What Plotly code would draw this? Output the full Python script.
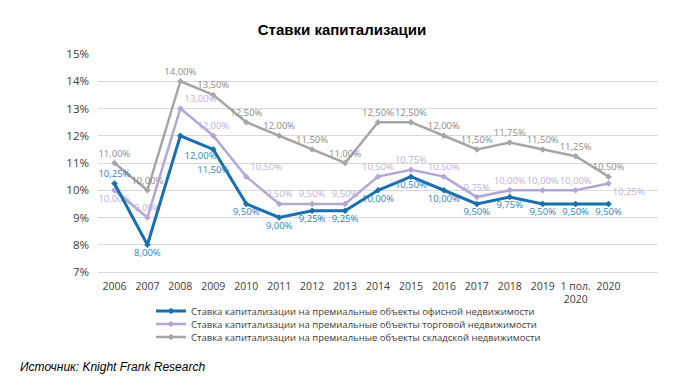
import plotly.graph_objects as go

categories = ["2006", "2007", "2008", "2009", "2010", "2011", "2012", "2013", "2014",
              "2015", "2016", "2017", "2018", "2019", "1 пол.<br>2020", "2020"]
office = [10.25, 8.00, 12.00, 11.50, 9.50, 9.00, 9.25, 9.25, 10.00, 10.50, 10.00, 9.50, 9.75, 9.50, 9.50, 9.50]
retail = [10.00, 9.00, 13.00, 12.00, 10.50, 9.50, 9.50, 9.50, 10.50, 10.75, 10.50, 9.75, 10.00, 10.00, 10.00, 10.25]
warehouse = [11.00, 10.00, 14.00, 13.50, 12.50, 12.00, 11.50, 11.00, 12.50, 12.50, 12.00, 11.50, 11.75, 11.50, 11.25, 10.50]
names = ["Ставка капитализации на премиальные объекты офисной недвижимости",
         "Ставка капитализации на премиальные объекты торговой недвижимости",
         "Ставка капитализации на премиальные объекты складской недвижимости"]
source_text = "Источник: Knight Frank Research"
title_text = "Ставки капитализации"

def fmt(v):
    return f"{v:.2f}".replace(".", ",") + "%"

x = list(range(len(categories)))

office_pos = ["top center"] + ["bottom center"] * 15
office_pos[2] = "bottom right"
retail_pos = ["bottom center"] + ["top center"] * 14 + ["bottom right"]
retail_pos[2] = "top right"
retail_pos[4] = "top right"
warehouse_pos = ["top center"] * 16

office_text = [fmt(v) for v in office]
office_text[2] = "<br>" + office_text[2]
office_text[3] = "<br>" + office_text[3]

FONT = "Open Sans"
fig = go.Figure()
series = [
    (warehouse, [fmt(v) for v in warehouse], names[2], "#a6a6a6", "#8c8c8c", warehouse_pos, 2.5, "legend3"),
    (retail, [fmt(v) for v in retail], names[1], "#b4a7d6", "#bdb1da", retail_pos, 2.5, "legend2"),
    (office, office_text, names[0], "#1a6faf", "#2e86c1", office_pos, 3, "legend"),
]
for vals, txt, nm, col, tcol, pos, w, lg in series:
    fig.add_trace(go.Scatter(
        x=x, y=vals, name=nm, mode="lines+markers+text",
        line=dict(color=col, width=w),
        marker=dict(symbol="diamond", size=5, color=col),
        text=txt, textposition=pos,
        textfont=dict(family=FONT, size=9.5, color=tcol),
        cliponaxis=False, legend=lg,
    ))

# page is offset by the 8px body margin; plot area page coords: x 98..658, y 54..272
L, R, T, B = 90, 28, 46, 122
plot_h = 386 - T - B
def py(page_y):
    return (386 - B - (page_y - 8)) / plot_h
def px(page_x):
    return (page_x - 8 - L) / (678 - L - R)

leg_common = dict(orientation="v", xanchor="left", yanchor="middle",
                  font=dict(family=FONT, size=9.5, color="#404040"),
                  bgcolor="rgba(0,0,0,0)")
fig.update_layout(
    width=678, height=386,
    margin=dict(l=L, r=R, t=T, b=B),
    paper_bgcolor="white", plot_bgcolor="white",
    font=dict(family=FONT, size=10, color="#595959"),
    title=dict(text="<b>" + title_text + "</b>", x=334 / 678, xanchor="center",
               y=1 - 22 / 386, yanchor="middle",
               font=dict(family="Liberation Sans", size=15, color="#000000")),
    showlegend=True,
    legend=dict(x=px(151), y=py(311), **leg_common),
    legend2=dict(x=px(151), y=py(324), **leg_common),
    legend3=dict(x=px(151), y=py(337), **leg_common),
    xaxis=dict(tickmode="array", tickvals=x, ticktext=categories,
               range=[-0.5, 16.5], showgrid=False, zeroline=False,
               showline=True, linecolor="#d9d9d9", ticks="", ticklabelstandoff=4,
               tickfont=dict(family=FONT, size=10.5, color="#404040")),
    yaxis=dict(range=[7, 15], dtick=1, ticksuffix="%", showgrid=True,
               gridcolor="#d9d9d9", zeroline=False, ticks="", ticklabelstandoff=8,
               tickfont=dict(family=FONT, size=11.5, color="#404040")),
    annotations=[dict(text="<i>" + source_text + "</i>", xref="paper", yref="paper",
                      x=px(18), y=py(367), xanchor="left", yanchor="middle",
                      showarrow=False,
                      font=dict(family="Liberation Sans", size=12, color="#000000"))],
)
fig.write_html("out.html")
